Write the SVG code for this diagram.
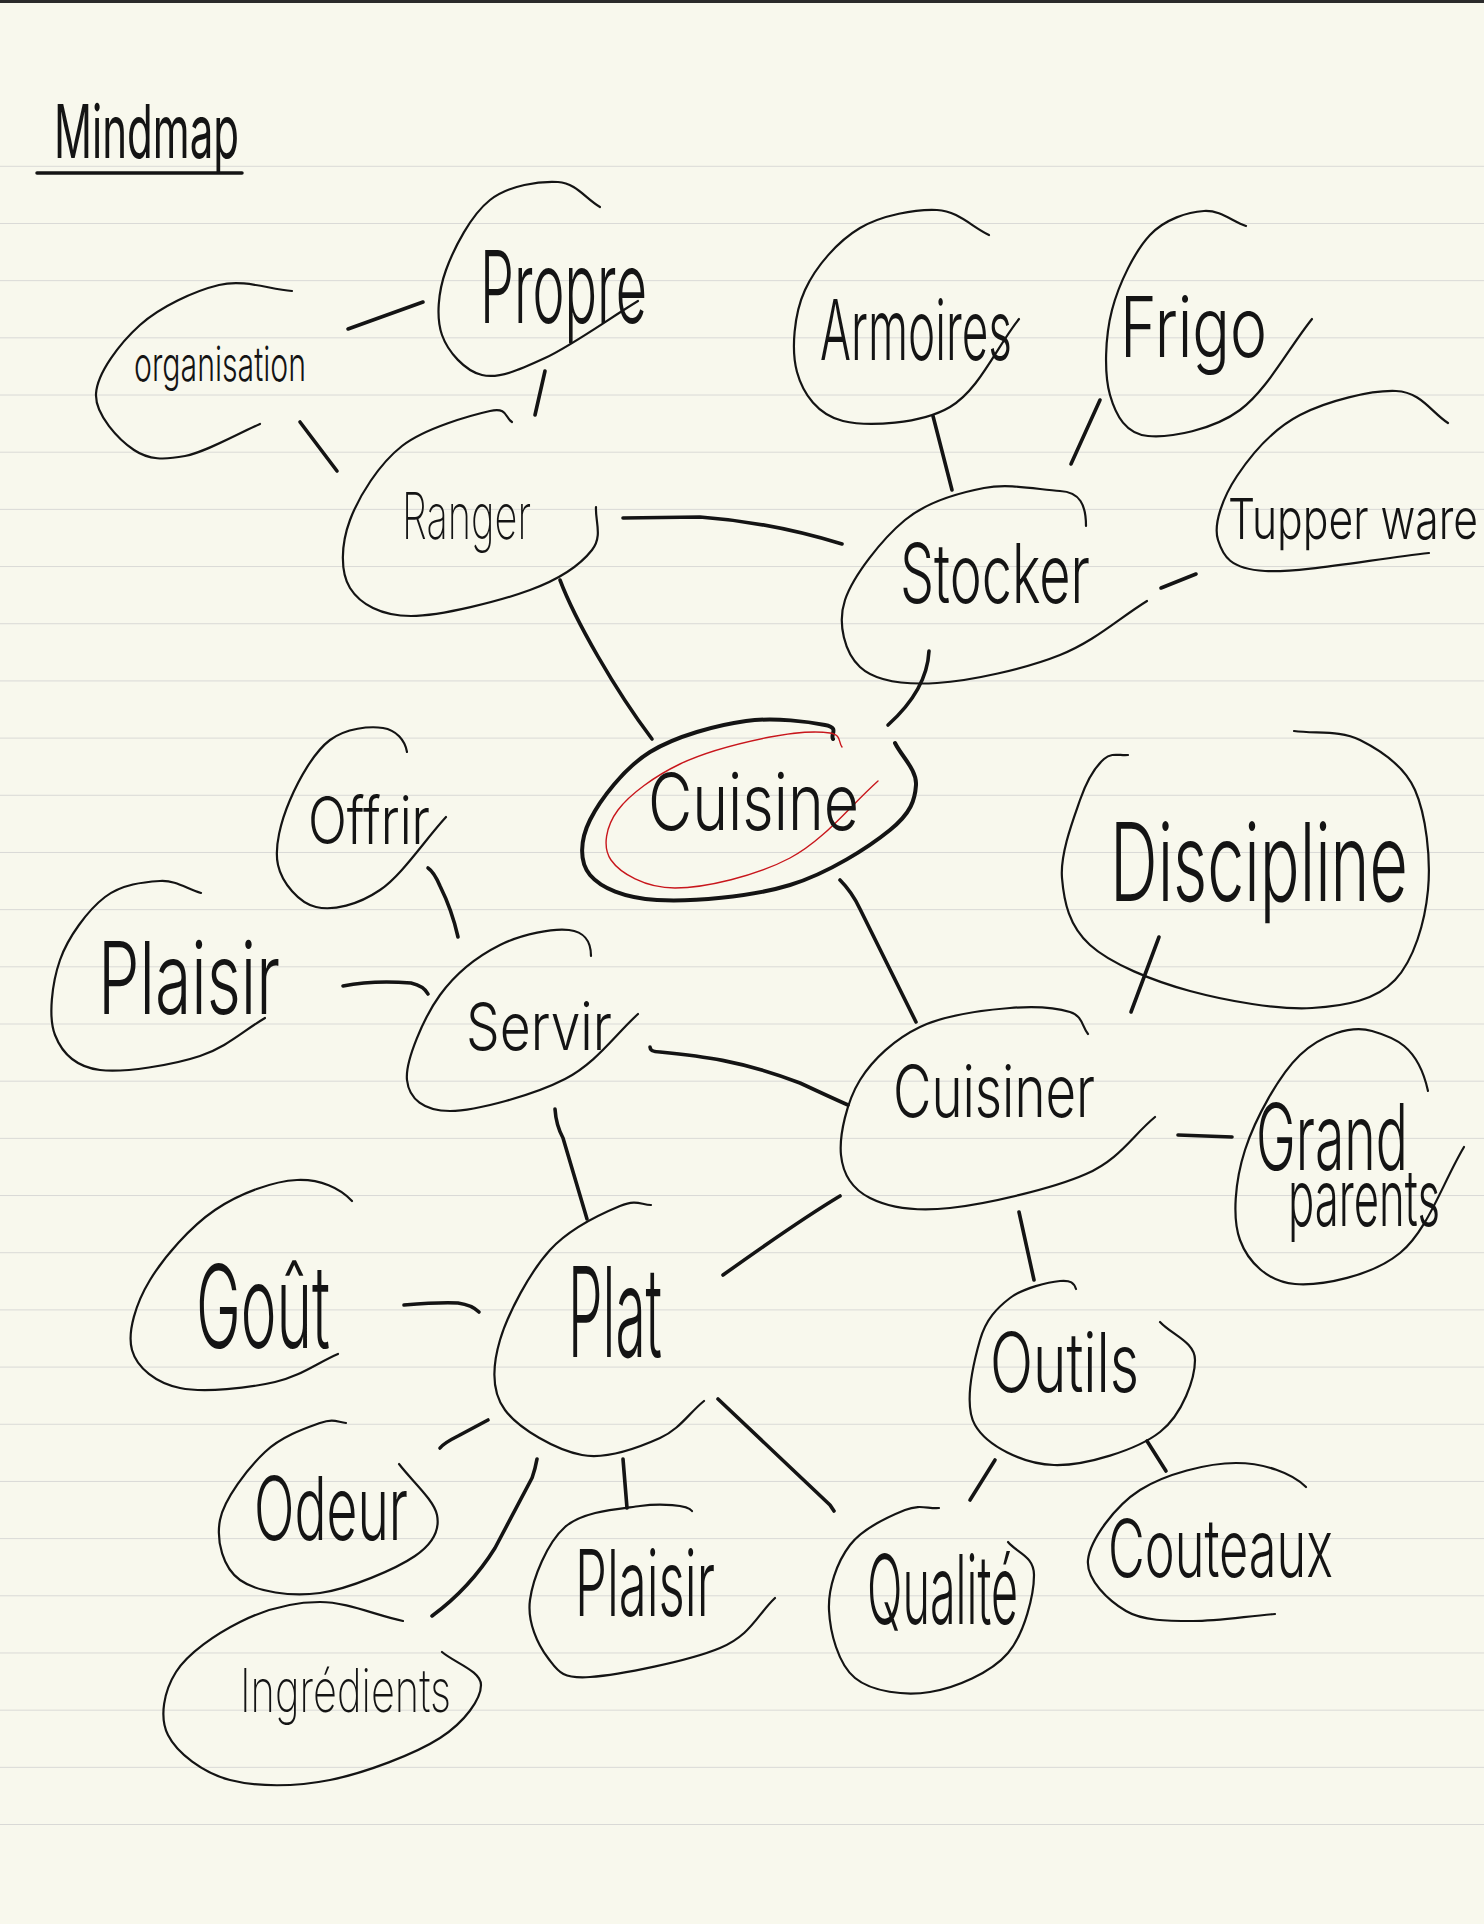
<svg xmlns="http://www.w3.org/2000/svg" width="1484" height="1924" viewBox="0 0 1484 1924">
<defs>
<style>
.bg{fill:#f8f8ed}
.rule{stroke:#d9d9d6;stroke-width:2.2}
.shape{fill:none;stroke:#141414;stroke-width:2.2;stroke-linecap:round;stroke-linejoin:round}
.conn path{fill:none;stroke:#141414;stroke-width:3.6;stroke-linecap:round;stroke-linejoin:round}
text{font-family:Inter,"Liberation Sans",sans-serif;font-weight:300;fill:#141414}
.thin{font-weight:200}
</style>
<pattern id="lines" x="0" y="165.8" width="1484" height="57.18" patternUnits="userSpaceOnUse">
<line x1="0" y1="0" x2="1484" y2="0" class="rule"/>
</pattern>
</defs>
<rect class="bg" x="0" y="0" width="1484" height="1924"/>
<g id="ruling">
<rect x="0" y="164" width="1484" height="1663" fill="url(#lines)"/>
<line x1="0" y1="1.5" x2="1484" y2="1.5" stroke="#2b2b2b" stroke-width="3"/>
</g>

<g id="title">
<text x="54" y="158" font-size="74" textLength="185" lengthAdjust="spacingAndGlyphs" style="font-weight:400">Mindmap</text>
<path class="shape" d="M37,173 L242,173" style="stroke-width:3.5"/>
</g>

<g id="connectors" class="conn">
<path d="M348,329 L423,302"/>
<path d="M300,422 L337,471"/>
<path d="M545,371 L535,415"/>
<path d="M623,518 L700,517 Q770,522 842,544"/>
<path d="M560,580 C575,620 615,690 652,739"/>
<path d="M933,416 L952,490"/>
<path d="M1100,400 L1071,464"/>
<path d="M1161,588 L1196,574"/>
<path d="M929,651 Q927,690 888,725"/>
<path d="M840,880 Q852,892 860,909 L916,1022"/>
<path d="M1159,937 L1131,1012"/>
<path d="M650,1047 Q650,1052 660,1052 C700,1056 740,1060 800,1083 Q830,1097 848,1105"/>
<path d="M1178,1135 L1232,1137"/>
<path d="M840,1196 Q800,1220 723,1275"/>
<path d="M1019,1212 L1034,1280"/>
<path d="M428,868 Q434,872 440,886 Q452,910 458,937"/>
<path d="M343,986 Q373,980 411,983 Q424,986 428,994"/>
<path d="M555,1109 Q556,1125 563,1138 L587,1219"/>
<path d="M404,1305 Q440,1302 458,1303 Q472,1305 479,1312"/>
<path d="M488,1420 L458,1436 Q444,1443 440,1448"/>
<path d="M537,1459 C535,1470 533,1475 532,1478 L495,1548 Q470,1588 432,1616"/>
<path d="M623,1459 L627,1508"/>
<path d="M718,1399 L830,1505 L834,1511"/>
<path d="M995,1460 L970,1500"/>
<path d="M1147,1441 L1166,1471"/>
</g>

<g id="node-organisation">
<path class="shape" d="M292,291 C268,289 244,279 219,285 S160,307 140,325 S97,373 96,394 S119,440 134,450 S164,460 185,456 S235,435 260,424"/>
<text x="134" y="381" font-size="48" textLength="172" lengthAdjust="spacingAndGlyphs">organisation</text>
</g>

<g id="node-propre">
<path class="shape" d="M600,207 C586,199 576,183 558,182 S509,185 490,200 S454,248 446,270 S436,318 442,335 S465,371 482,375 S519,370 545,358 S607,320 638,301"/>
<text x="480" y="323" font-size="100" textLength="167" lengthAdjust="spacingAndGlyphs">Propre</text>
</g>

<g id="node-ranger">
<path class="shape" d="M512,422 C505,418 508,407 490,411 S425,428 402,446 S359,496 350,520 S340,572 350,588 S381,616 411,616 S500,601 530,590 S581,564 592,550 S595,521 596,507"/>
<text class="thin" x="402" y="539" font-size="64" textLength="129" lengthAdjust="spacingAndGlyphs">Ranger</text>
</g>

<g id="node-stocker">
<path class="shape" d="M1086,526 C1086,505 1080,492 1060,491 S1010,483 984,488 S928,501 905,520 S853,576 845,600 S845,653 860,667 S904,685 937,683 S1025,669 1060,655 S1118,619 1147,601"/>
<text x="900" y="603" font-size="82" textLength="190" lengthAdjust="spacingAndGlyphs">Stocker</text>
</g>

<g id="node-armoires">
<path class="shape" d="M989,235 C972,227 958,211 937,210 S882,215 860,228 S816,266 805,290 S791,350 797,372 S818,415 843,421 S921,424 950,407 S996,348 1019,319"/>
<text x="820" y="360" font-size="84" textLength="192" lengthAdjust="spacingAndGlyphs">Armoires</text>
</g>

<g id="node-frigo">
<path class="shape" d="M1246,226 C1232,221 1220,210 1204,211 S1165,219 1150,235 S1119,283 1112,310 S1104,374 1110,395 S1126,434 1148,436 S1213,430 1240,410 S1288,349 1312,319"/>
<text x="1120" y="357" font-size="84" textLength="147" lengthAdjust="spacingAndGlyphs">Frigo</text>
</g>

<g id="node-tupperware">
<path class="shape" d="M1448,423 C1431,412 1421,392 1396,391 S1327,401 1300,415 S1251,455 1237,476 S1213,524 1218,540 S1230,569 1265,571 S1374,559 1429,553"/>
<text x="1228" y="539" font-size="56" textLength="250" lengthAdjust="spacingAndGlyphs">Tupper ware</text>
</g>

<g id="node-cuisine">
<path class="shape" style="stroke-width:4" d="M833,739 C830,734 840,728 825,725 S775,717 746,721 S676,736 650,752 S600,800 590,820 S579,862 590,875 S624,898 657,900 S751,897 790,885 S869,847 890,830 S915,800 916,785 S902,757 895,743"/>
<path class="shape" style="stroke:#c8161c;stroke-width:1.4" d="M842,747 C838,742 842,735 830,733 S795,732 770,737 S705,752 680,764 S630,794 618,810 S602,847 611,860 S645,888 675,888 S756,876 790,858 S849,807 878,781"/>
<text x="648" y="830" font-size="78" textLength="211" lengthAdjust="spacingAndGlyphs">Cuisine</text>
</g>

<g id="node-cuisiner">
<path class="shape" d="M1088,1034 C1082,1027 1083,1016 1070,1012 S1035,1006 1010,1008 S945,1015 920,1027 S873,1059 860,1080 S839,1135 841,1155 S852,1189 870,1198 S914,1212 950,1208 S1052,1189 1086,1174 S1132,1136 1155,1117"/>
<text x="893" y="1117" font-size="72" textLength="202" lengthAdjust="spacingAndGlyphs">Cuisiner</text>
</g>

<g id="node-discipline">
<path class="shape" d="M1128,755 C1120,756 1112,752 1104,759 S1087,780 1080,800 S1060,854 1062,878 S1069,926 1090,945 S1153,981 1190,991 S1278,1010 1312,1008 S1376,1000 1395,980 S1425,922 1428,890 S1426,815 1415,790 S1380,750 1360,740 S1316,734 1294,731"/>
<text x="1110" y="901" font-size="108" textLength="298" lengthAdjust="spacingAndGlyphs">Discipline</text>
</g>

<g id="node-grandparents">
<path class="shape" d="M1428,1091 C1418,1045 1393,1037 1372,1031 S1321,1035 1300,1055 S1255,1119 1245,1150 S1232,1218 1240,1240 S1268,1282 1295,1284 S1372,1276 1400,1253 S1443,1182 1464,1147"/>
<text x="1256" y="1170" font-size="92" textLength="152" lengthAdjust="spacingAndGlyphs">Grand</text>
<text x="1288" y="1226" font-size="78" textLength="152" lengthAdjust="spacingAndGlyphs">parents</text>
</g>

<g id="node-servir">
<path class="shape" d="M591,956 C591,940 584,932 569,930 S522,934 500,945 S456,973 440,995 S405,1061 407,1080 S424,1111 450,1111 S534,1095 565,1079 S614,1036 638,1014"/>
<text x="466" y="1050" font-size="66" textLength="146" lengthAdjust="spacingAndGlyphs">Servir</text>
</g>

<g id="node-offrir">
<path class="shape" d="M407,752 C405,740 396,730 383,728 S346,728 330,740 S299,779 290,800 S274,847 278,865 S299,903 316,907 S358,905 380,890 S424,841 446,817"/>
<text x="308" y="844" font-size="66" textLength="122" lengthAdjust="spacingAndGlyphs">Offrir</text>
</g>

<g id="node-plaisir-left">
<path class="shape" d="M201,893 C187,889 176,880 160,881 S122,884 105,897 S68,937 60,960 S48,1017 55,1035 S76,1067 100,1070 S173,1065 200,1056 S243,1031 265,1018"/>
<text x="98" y="1014" font-size="100" textLength="182" lengthAdjust="spacingAndGlyphs">Plaisir</text>
</g>

<g id="node-gout">
<path class="shape" d="M352,1201 C340,1188 320,1179 297,1180 S240,1193 215,1210 S164,1257 150,1280 S127,1332 132,1350 S156,1383 180,1388 S249,1388 275,1382 S317,1363 338,1354"/>
<text x="196" y="1348" font-size="115" textLength="134" lengthAdjust="spacingAndGlyphs">Goût</text>
</g>

<g id="node-plat">
<path class="shape" d="M651,1205 C641,1205 637,1199 620,1206 S570,1228 550,1250 S508,1313 500,1340 S491,1391 505,1410 S556,1450 582,1455 S640,1447 660,1438 S689,1413 704,1401"/>
<text x="568" y="1357" font-size="125" textLength="94" lengthAdjust="spacingAndGlyphs">Plat</text>
</g>

<g id="node-odeur">
<path class="shape" d="M346,1423 C337,1422 334,1418 320,1423 S282,1436 265,1452 S224,1499 220,1520 S223,1568 240,1580 S291,1597 320,1593 S396,1569 415,1556 S440,1530 437,1515 S412,1481 399,1464"/>
<text x="254" y="1540" font-size="88" textLength="154" lengthAdjust="spacingAndGlyphs">Odeur</text>
</g>

<g id="node-ingredients">
<path class="shape" d="M403,1621 C375,1615 347,1602 320,1602 S264,1610 240,1622 S188,1653 176,1672 S159,1717 168,1735 S203,1773 230,1780 S295,1787 330,1780 S415,1754 440,1738 S481,1699 481,1685 S455,1663 442,1652"/>
<text class="thin" x="240" y="1712" font-size="60" textLength="211" lengthAdjust="spacingAndGlyphs">Ingrédients</text>
</g>

<g id="node-plaisir-bottom">
<path class="shape" d="M692,1511 C688,1505 661,1503 640,1506 S583,1511 565,1527 S533,1578 530,1600 S538,1645 548,1658 S561,1679 590,1677 S689,1661 720,1648 S757,1615 775,1598"/>
<text x="575" y="1616" font-size="92" textLength="140" lengthAdjust="spacingAndGlyphs">Plaisir</text>
</g>

<g id="node-outils">
<path class="shape" d="M1076,1289 C1074,1283 1071,1280 1060,1281 S1023,1288 1010,1298 S986,1319 980,1340 S963,1404 975,1425 S1023,1464 1054,1465 S1137,1450 1160,1432 S1195,1378 1195,1360 S1172,1335 1160,1322"/>
<text x="990" y="1392" font-size="82" textLength="149" lengthAdjust="spacingAndGlyphs">Outils</text>
</g>

<g id="node-qualite">
<path class="shape" d="M939,1508 C928,1509 920,1504 905,1510 S863,1528 850,1545 S828,1588 829,1610 S838,1664 855,1678 S905,1696 930,1692 S991,1673 1008,1653 S1034,1594 1034,1575 S1017,1553 1008,1542"/>
<text x="867" y="1624" font-size="96" textLength="151" lengthAdjust="spacingAndGlyphs">Qualité</text>
</g>

<g id="node-couteaux">
<path class="shape" d="M1306,1487 C1292,1473 1264,1463 1236,1463 S1165,1474 1140,1490 S1090,1540 1088,1560 S1109,1601 1126,1611 S1168,1621 1193,1621 S1248,1616 1275,1614"/>
<text x="1108" y="1577" font-size="80" textLength="225" lengthAdjust="spacingAndGlyphs">Couteaux</text>
</g>
</svg>
